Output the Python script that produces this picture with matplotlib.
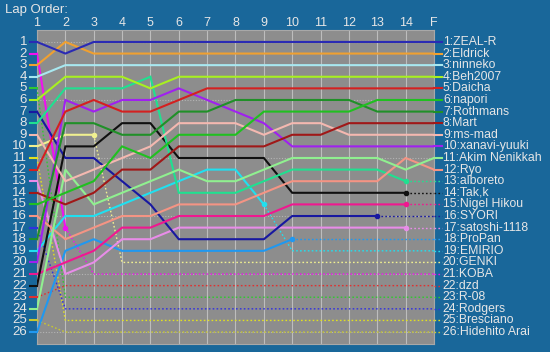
import matplotlib
matplotlib.use("Agg")
import matplotlib.pyplot as plt
from matplotlib.transforms import blended_transform_factory

plt.rcParams['font.family'] = ['Liberation Sans', 'DejaVu Sans']

# Datos: posición por vuelta (vueltas 1..14 y F)
lap_labels = ['1', '2', '3', '4', '5', '6', '7', '8', '9', '10', '11', '12', '13', '14', 'F']

drivers = ['ZEAL-R', 'Eldrick', 'ninneko', 'Beh2007', 'Daicha', 'napori', 'Rothmans',
           'Mart', 'ms-mad', 'xanavi-yuuki', 'Akim Nenikkah', 'Ryo', 'alboreto', 'Tak,k',
           'Nigel Hikou', 'SYORI', 'satoshi-1118', 'ProPan', 'EMIRIO', 'GENKI', 'KOBA',
           'dzd', 'R-08', 'Rodgers', 'Bresciano', 'Hidehito Arai']

colors = ['#2a2ab4', '#f0a030', '#a8e8f0', '#a8f020', '#d42020', '#20c020', '#209028',
          '#a01818', '#f4b8b0', '#a020f0', '#90f090', '#f49484', '#20e090', '#101010',
          '#f01890', '#1818a0', '#e88ce8', '#2098f0', '#20e0f0', '#f0f090', '#f010f0',
          '#e03030', '#30c830', '#3030e0', '#e0e020', '#c8c830']

positions = {
    'ZEAL-R':        [1, 2, 1, 1, 1, 1, 1, 1, 1, 1, 1, 1, 1, 1, 1],
    'Eldrick':       [3, 1, 2, 2, 2, 2, 2, 2, 2, 2, 2, 2, 2, 2, 2],
    'ninneko':       [4, 3, 3, 3, 3, 3, 3, 3, 3, 3, 3, 3, 3, 3, 3],
    'Beh2007':       [6, 4, 4, 4, 5, 4, 4, 4, 4, 4, 4, 4, 4, 4, 4],
    'Daicha':        [12, 7, 6, 7, 7, 6, 5, 5, 5, 5, 5, 5, 5, 5, 5],
    'napori':        [15, 14, 13, 10, 11, 9, 9, 9, 7, 7, 7, 7, 6, 6, 6],
    'Rothmans':      [18, 8, 8, 9, 9, 7, 7, 6, 6, 6, 6, 6, 7, 7, 7],
    'Mart':          [14, 15, 14, 12, 12, 10, 10, 10, 10, 9, 9, 8, 8, 8, 8],
    'ms-mad':        [9, 13, 12, 11, 10, 8, 8, 8, 9, 8, 8, 9, 9, 9, 9],
    'xanavi-yuuki':  [20, 6, 7, 6, 6, 5, 6, 7, 8, 10, 10, 10, 10, 10, 10],
    'Akim Nenikkah': [24, 12, 15, 14, 13, 12, 13, 13, 12, 11, 11, 11, 11, 12, 11],
    'Ryo':           [16, 18, 17, 16, 16, 15, 15, 15, 14, 13, 13, 13, 13, 11, 12],
    'alboreto':      [8, 5, 5, 5, 4, 14, 14, 14, 13, 12, 12, 12, 12, 13, 13],
    'Tak,k':         [22, 10, 10, 8, 8, 11, 11, 11, 11, 14, 14, 14, 14, 14, 14],
    'Nigel Hikou':   [21, 20, 19, 17, 17, 16, 16, 16, 16, 15, 15, 15, 15, 15, 15],
    'SYORI':         [7, 11, 11, 13, 15, 18, 18, 18, 18, 16, 16, 16, 16, 16, 16],
    'satoshi-1118':  [13, 21, 20, 18, 18, 17, 17, 17, 17, 17, 17, 17, 17, 17, 17],
    'ProPan':        [26, 19, 18, 19, 19, 19, 19, 19, 19, 18, 18, 18, 18, 18, 18],
    'EMIRIO':        [19, 16, 16, 15, 14, 13, 12, 12, 15, 19, 19, 19, 19, 19, 19],
    'GENKI':         [10, 9, 9, 20, 20, 20, 20, 20, 20, 20, 20, 20, 20, 20, 20],
    'KOBA':          [2, 17, 21, 21, 21, 21, 21, 21, 21, 21, 21, 21, 21, 21, 21],
    'dzd':           [23, 22, 22, 22, 22, 22, 22, 22, 22, 22, 22, 22, 22, 22, 22],
    'R-08':          [5, 23, 23, 23, 23, 23, 23, 23, 23, 23, 23, 23, 23, 23, 23],
    'Rodgers':       [17, 24, 24, 24, 24, 24, 24, 24, 24, 24, 24, 24, 24, 24, 24],
    'Bresciano':     [11, 25, 25, 25, 25, 25, 25, 25, 25, 25, 25, 25, 25, 25, 25],
    'Hidehito Arai': [25, 26, 26, 26, 26, 26, 26, 26, 26, 26, 26, 26, 26, 26, 26],
}

# última vuelta completada (línea continua hasta aquí, punteada después)
laps_done = [15, 15, 15, 15, 15, 15, 15, 15, 15, 15, 15, 15, 14, 14,
             14, 13, 14, 10, 9, 3, 2, 1, 1, 1, 1, 1]

BG = '#19679a'
PLOT_BG = '#8d8d8d'
TXT = '#e6e6e6'

fig = plt.figure(figsize=(5.5, 3.52), dpi=100, facecolor=BG)
ax = fig.add_axes([37 / 550, 1 - 344 / 352, 397 / 550, 314 / 352])
ax.set_facecolor(PLOT_BG)

x = list(range(1, len(lap_labels) + 1))
ax.set_xlim(1, 15)
ax.set_ylim(27.03, -0.03)

# rejilla
for xi in x:
    ax.axvline(xi, color='#bdbdbd', lw=0.8, zorder=1)
for r in [1, 6, 11, 16, 21, 26]:
    ax.axhline(r, color='#b4b4b4', lw=0.8, ls=(0, (1, 1.5)), zorder=1)

for i, name in enumerate(drivers):
    pos = positions[name]
    c = colors[i]
    k = laps_done[i]
    z = 10 + (len(drivers) - i) * 0.1
    if k > 1:
        ax.plot(x[:k], pos[:k], color=c, lw=1.5, solid_joinstyle='miter', zorder=z)
    if k < 15:
        ax.plot(x[k - 1:], pos[k - 1:], color=c, lw=1.0, ls=(0, (1.2, 1.6)), zorder=z - 5)
        if k > 1:
            ax.plot(x[k - 1], pos[k - 1], 'o', color=c, ms=3, zorder=z)
    # prolongación a la izquierda y a la derecha
    ax.plot([0.75, 1], [pos[0], pos[0]], color=c, lw=1.5, clip_on=False, zorder=z)
    ax.plot([15, 15.28], [pos[-1], pos[-1]], color=c,
            lw=1.5 if k == 15 else 1.0, ls='-' if k == 15 else (0, (1.2, 1.6)),
            clip_on=False, zorder=z)
    ax.text(1.0225, pos[-1], f'{pos[-1]}:{name}',
            transform=blended_transform_factory(ax.transAxes, ax.transData),
            color=TXT, fontsize=8.8, va='center', ha='left')

# números de vuelta arriba y posiciones a la izquierda
for xi, lab in zip(x, lap_labels):
    ax.text(xi, -0.6, lab, color=TXT, fontsize=9, ha='center', va='center', clip_on=False)
for r in range(1, len(drivers) + 1):
    ax.text(-0.025, r, str(r), transform=blended_transform_factory(ax.transAxes, ax.transData),
            color=TXT, fontsize=9.5, ha='right', va='center')

fig.text(5 / 550, 1 - 10 / 352, 'Lap Order:', color=TXT, fontsize=9.5, ha='left', va='center')

ax.set_xticks([])
ax.set_yticks([])
for s in ax.spines.values():
    s.set_color('#a8a8a8')
    s.set_linewidth(0.8)

fig.savefig('out.png', dpi=100, facecolor=BG)
